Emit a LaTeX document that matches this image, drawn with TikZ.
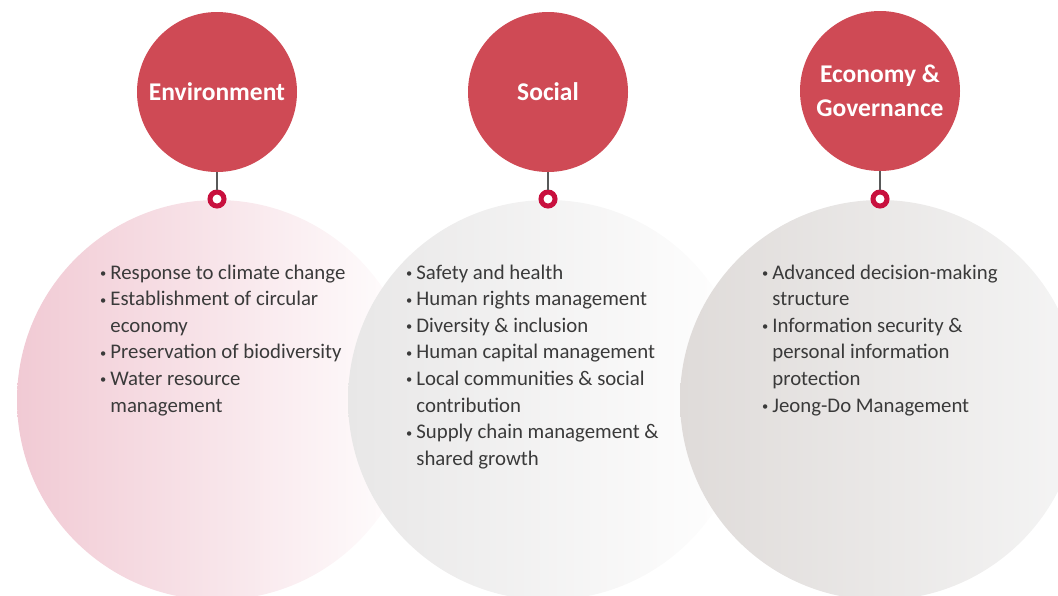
\documentclass[tikz,border=0pt]{standalone}
\usepackage{fontspec}
\setmainfont{Carlito}
\usetikzlibrary{positioning}

\definecolor{esgred}{HTML}{CF4A55}
\definecolor{ringred}{HTML}{C8103E}
\definecolor{envpink}{HTML}{F1CAD4}
\definecolor{socgray}{HTML}{E8E7E7}
\definecolor{ecogray}{HTML}{DFDBD9}
\definecolor{bodytext}{HTML}{3A3A3A}
\newcommand{\bl}{\raisebox{1.5pt}{\scalebox{0.6}{\textbullet}}}

\begin{document}
\begin{tikzpicture}[x=1pt, y=-1pt,
    bigcircle/.style={circle, minimum size=400pt, inner sep=0pt},
    headcircle/.style={circle, fill=esgred, minimum size=160pt, inner sep=0pt, text=white, align=center, font=\bfseries\fontsize{25.5}{34}\selectfont},
    ring/.style={circle, draw=ringred, line width=5pt, fill=white, minimum size=14pt, inner sep=0pt},
    stem/.style={draw=black!65, line width=1.2pt},
    listbox/.style={anchor=base west, inner sep=0pt, text=bodytext, font=\fontsize{20.8}{26.6}\selectfont},
]
    \useasboundingbox (0,0) rectangle (1058,595);
    \clip (0,0) rectangle (1058,595);
    % background discs
    \node[bigcircle, left color=envpink, right color=white] (envbg) at (217,400) {};
    \node[bigcircle, left color=socgray, right color=white] (socbg) at (548,400) {};
    \node[bigcircle, left color=ecogray, right color=white!96!black] (ecobg) at (880,400) {};
    % headings
    \node[headcircle] (env) at (217,92) {Environment};
    \node[headcircle] (soc) at (548,92) {Social};
    \node[headcircle] (eco) at (880,91) {Economy \&\\Governance};
    \node[ring] (envdot) at (217,199) {};
    \node[ring] (socdot) at (548,199) {};
    \node[ring] (ecodot) at (880,199) {};
    \draw[stem] (env.south) -- (envdot.north);
    \draw[stem] (soc.south) -- (socdot.north);
    \draw[stem] (eco.south) -- (ecodot.north);
    % lists
    \node[listbox] (envlist) at (100,279) {\begin{tabular}[t]{@{}c@{\hspace{4pt}}l@{}}
        \bl & Response to climate change\\
        \bl & Establishment of circular\\
            & economy\\
        \bl & Preservation of biodiversity\\
        \bl & Water resource\\
            & management
    \end{tabular}};
    \node[listbox] (soclist) at (406,279) {\begin{tabular}[t]{@{}c@{\hspace{4pt}}l@{}}
        \bl & Safety and health\\
        \bl & Human rights management\\
        \bl & Diversity \& inclusion\\
        \bl & Human capital management\\
        \bl & Local communities \& social\\
            & contribution\\
        \bl & Supply chain management \&\\
            & shared growth
    \end{tabular}};
    \node[listbox] (ecolist) at (762,279) {\begin{tabular}[t]{@{}c@{\hspace{4pt}}l@{}}
        \bl & Advanced decision-making\\
            & structure\\
        \bl & Information security \&\\
            & personal information\\
            & protection\\
        \bl & Jeong-Do Management
    \end{tabular}};
\end{tikzpicture}
\end{document}
